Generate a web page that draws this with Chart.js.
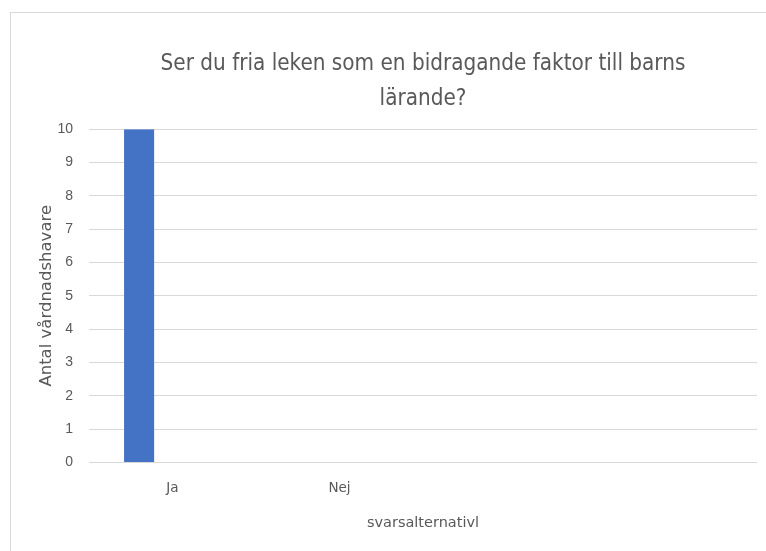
<!DOCTYPE html>
<html lang="sv">
<head>
    <meta charset="UTF-8">
    <title>Ser du fria leken som en bidragande faktor till barns lärande?</title>
    <script src="https://cdn.jsdelivr.net/npm/chart.js"></script>
    <style>
        html, body {
            margin: 0;
            padding: 0;
            background: #ffffff;
            overflow: hidden;
        }
        #frame {
            position: absolute;
            left: 10px;
            top: 12px;
            width: 770px;
            height: 560px;
            border-left: 1px solid #d9d9d9;
            border-top: 1px solid #d9d9d9;
        }
        #wrap {
            position: absolute;
            left: 0;
            top: 0;
            width: 766px;
            height: 551px;
        }
    </style>
</head>
<body>
    <div id="frame"></div>
    <div id="wrap"><canvas id="chart"></canvas></div>

    <script>
        const categories = ["Ja", "Nej", "", ""];
        const serie1 = [10, 0, 0, 0];
        const serie2 = [0, 0, 0, 0];
        const serie3 = [0, 0, 0, 0];

        const grey = "#595959";
        const font = "'Liberation Sans Narrow', 'DejaVu Sans Condensed', 'Liberation Sans', sans-serif";

        new Chart(document.getElementById("chart"), {
            type: "bar",
            data: {
                labels: categories,
                datasets: [
                    { label: "Serie 1", data: serie1, backgroundColor: "#4472c4" },
                    { label: "Serie 2", data: serie2, backgroundColor: "#ed7d31" },
                    { label: "Serie 3", data: serie3, backgroundColor: "#a5a5a5" }
                ]
            },
            options: {
                responsive: true,
                maintainAspectRatio: false,
                animation: false,
                categoryPercentage: 0.6,
                barPercentage: 0.9,
                layout: { padding: { left: 37, right: 9, top: 47, bottom: 15 } },
                plugins: {
                    legend: { display: false },
                    tooltip: { enabled: false },
                    title: {
                        display: true,
                        fullSize: false,
                        text: ["Ser du fria leken som en bidragande faktor till barns", "lärande?"],
                        color: grey,
                        font: { family: font, size: 22.3, weight: "normal", lineHeight: 1.55 },
                        padding: { top: 0, bottom: 13 }
                    }
                },
                scales: {
                    x: {
                        grid: { display: false },
                        border: { display: false },
                        ticks: {
                            color: grey,
                            padding: 10,
                            font: { family: "'DejaVu Sans', sans-serif", size: 13.5 }
                        },
                        title: {
                            display: true,
                            text: "svarsalternativl",
                            color: grey,
                            padding: { top: 8 },
                            font: { family: "'DejaVu Sans', sans-serif", size: 14.5 }
                        }
                    },
                    y: {
                        min: 0,
                        max: 10,
                        grid: { color: "#d9d9d9", drawTicks: false },
                        border: { display: false },
                        afterFit: function (scale) { scale.width = 52; },
                        ticks: {
                            stepSize: 1,
                            color: grey,
                            padding: 16,
                            font: { family: "'Liberation Sans', sans-serif", size: 14 }
                        },
                        title: {
                            display: true,
                            text: "Antal vårdnadshavare",
                            color: grey,
                            padding: { top: 0, bottom: 4 },
                            font: { family: "'DejaVu Sans', sans-serif", size: 16.5 }
                        }
                    }
                }
            }
        });
    </script>
</body>
</html>
